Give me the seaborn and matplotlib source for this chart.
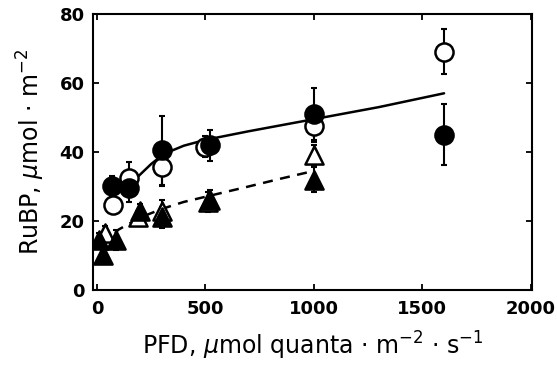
import matplotlib
matplotlib.use("Agg")
import matplotlib.pyplot as plt
import seaborn as sns
import pandas as pd

# filled circles
fc_x = [70, 150, 300, 520, 1000, 1600]
fc_y = [30, 29.5, 40.5, 42, 51, 45]
fc_err = [3, 4, 10, 4.5, 7.5, 8.8]

# open circles
oc_x = [75, 150, 300, 500, 1000, 1600]
oc_y = [24.5, 32.5, 35.5, 41.5, 47.5, 69]
oc_err = [2, 4.5, 5.5, 3, 4.5, 6.5]

# open triangles
ot_x = [35, 190, 300, 510, 1000]
ot_y = [16.5, 21, 23, 25.5, 39]
ot_err = [2, 2, 3, 3, 3]

# filled triangles
ft_x = [30, 10, 90, 200, 300, 520, 1000]
ft_y = [10, 14.5, 14.5, 23, 21, 26, 32]
ft_err = [2.5, 2, 3, 2, 3, 3, 3.5]

# fitted curves
solid_x = [150, 200, 250, 300, 350, 400, 500, 700, 1000, 1300, 1600]
solid_y = [30.5, 33.5, 36.5, 39, 40.5, 41.8, 43.5, 46, 49.5, 53, 57]
dash_x = [25, 100, 200, 300, 400, 500, 700, 850, 1000]
dash_y = [13, 17.5, 21, 23.5, 25.5, 27, 30, 32.3, 34.5]

sns.set_style("ticks")
plt.rcParams["font.family"] = ["DejaVu Sans"]
plt.rcParams["mathtext.fontset"] = "dejavusans"
# plain black text and axes, like the printed figure
for key in ["text.color", "axes.labelcolor", "xtick.color", "ytick.color",
            "axes.edgecolor"]:
    plt.rcParams[key] = "black"

fig, ax = plt.subplots(figsize=(5.57, 3.67), dpi=100)
fig.subplots_adjust(left=0.167, right=0.955, top=0.962, bottom=0.21)

sns.lineplot(x=solid_x, y=solid_y, ax=ax, color="black", lw=1.8, sort=False)
sns.lineplot(x=dash_x, y=dash_y, ax=ax, color="black", lw=1.8, sort=False,
             linestyle=(0, (4, 3)))

series = [
    (ot_x, ot_y, ot_err, "^", "white"),
    (ft_x, ft_y, ft_err, "^", "black"),
    (oc_x, oc_y, oc_err, "o", "white"),
    (fc_x, fc_y, fc_err, "o", "black"),
]
for xs, ys, errs, mk, face in series:
    ax.errorbar(xs, ys, yerr=errs, fmt="none", ecolor="black", elinewidth=1.5,
                capsize=2.5, capthick=1.5, zorder=2)
    df = pd.DataFrame({"x": xs, "y": ys})
    sns.scatterplot(data=df, x="x", y="y", ax=ax, marker=mk, s=170,
                    color=face, edgecolor="black", linewidth=1.8, zorder=3)

ax.set_xlim(-18, 2005)
ax.set_ylim(0, 80)
ax.set_xticks([0, 500, 1000, 1500, 2000])
ax.set_yticks([0, 20, 40, 60, 80])
ax.tick_params(direction="in", top=True, right=True, length=4, width=1.3,
               labelsize=13)
ax.tick_params(axis="x", pad=7)
ax.tick_params(axis="y", pad=6)
for lab in ax.get_xticklabels() + ax.get_yticklabels():
    lab.set_fontweight("bold")
for sp in ax.spines.values():
    sp.set_linewidth(1.5)

ax.set_xlabel(r"PFD, $\mu$mol quanta $\cdot$ m$^{-2}$ $\cdot$ s$^{-1}$",
              fontsize=17, labelpad=9)
ax.set_ylabel(r"RuBP, $\mu$mol $\cdot$ m$^{-2}$", fontsize=17, labelpad=9)

fig.savefig("out.png", dpi=100)
